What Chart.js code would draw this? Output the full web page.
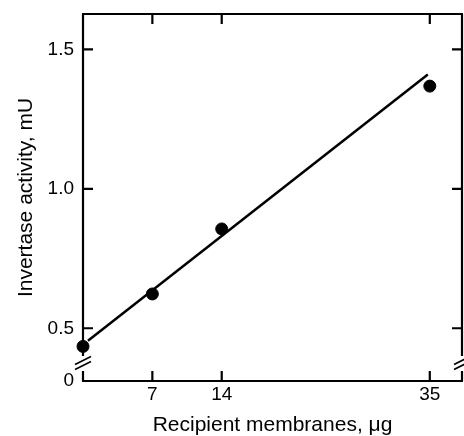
<!DOCTYPE html>
<html>
<head>
<meta charset="utf-8">
<script src="https://cdn.jsdelivr.net/npm/chart.js@4"></script>
<style>
  html, body { margin: 0; padding: 0; background: #fff; }
  canvas { display: block; }
</style>
</head>
<body>
<canvas id="chart" width="464" height="436"></canvas>
<script>
// данные с графика
const membranes = [0, 7, 14, 35];
const activity = [0.435, 0.623, 0.856, 1.368];
const fitX = [0.5, 34.8];
const fitY = [0.455, 1.41];
const xTicks = [7, 14, 35];
const yTicks = [0.5, 1.0, 1.5];

const yMin = 0.311;
const yMax = 1.6265;
const FONT = "'Liberation Sans', Arial, sans-serif";

// убираем лишние отступы под подписи, чтобы рамка встала на место
function noPad(s) {
  s.paddingTop = 0; s.paddingBottom = 0;
  s.paddingLeft = 0; s.paddingRight = 0;
}

// рамка, засечки внутрь и разрывы осей
const axesPlugin = {
  id: 'axes',
  beforeDatasetsDraw(chart) {
    const ctx = chart.ctx;
    const a = chart.chartArea;
    const xs = chart.scales.x, ys = chart.scales.y;
    const gapTop = a.bottom - 25, gapBot = a.bottom - 10;
    ctx.save();
    ctx.strokeStyle = '#000';
    ctx.lineWidth = 2.2;
    ctx.lineCap = 'butt';
    ctx.beginPath();
    // верх и низ
    ctx.moveTo(a.left - 1, a.top); ctx.lineTo(a.right + 1, a.top);
    ctx.moveTo(a.left - 1, a.bottom); ctx.lineTo(a.right + 1, a.bottom);
    // левая ось с разрывом
    ctx.moveTo(a.left, a.top); ctx.lineTo(a.left, gapTop);
    ctx.moveTo(a.left, gapBot); ctx.lineTo(a.left, a.bottom);
    // правая ось с разрывом
    ctx.moveTo(a.right, a.top); ctx.lineTo(a.right, gapTop);
    ctx.moveTo(a.right, gapBot); ctx.lineTo(a.right, a.bottom);
    // засечки
    yTicks.forEach(v => {
      const y = ys.getPixelForValue(v);
      ctx.moveTo(a.left, y); ctx.lineTo(a.left + 10, y);
      ctx.moveTo(a.right, y); ctx.lineTo(a.right - 10, y);
    });
    xTicks.forEach(v => {
      const x = xs.getPixelForValue(v);
      ctx.moveTo(x, a.bottom); ctx.lineTo(x, a.bottom - 10);
      ctx.moveTo(x, a.top); ctx.lineTo(x, a.top + 10);
    });
    ctx.stroke();

    // значки разрыва
    ctx.lineWidth = 1.6;
    ctx.beginPath();
    [a.left, a.right].forEach(x0 => {
      const yc = (gapTop + gapBot) / 2;
      ctx.moveTo(x0 - 8, yc + 1); ctx.lineTo(x0 + 8, yc - 7);
      ctx.moveTo(x0 - 8, yc + 6); ctx.lineTo(x0 + 8, yc - 2);
    });
    ctx.stroke();
    ctx.restore();
  }
};

const ctx = document.getElementById('chart').getContext('2d');
const chart = new Chart(ctx, {
  type: 'scatter',
  data: {
    datasets: [
      {
        label: 'fit',
        type: 'line',
        data: fitX.map((x, i) => ({ x: x, y: fitY[i] })),
        borderColor: '#000',
        borderWidth: 2.5,
        pointRadius: 0,
        fill: false,
        clip: false
      },
      {
        label: 'data',
        data: membranes.map((x, i) => ({ x: x, y: activity[i] })),
        backgroundColor: '#000',
        borderColor: '#000',
        pointRadius: 6,
        pointHoverRadius: 6,
        clip: false
      }
    ]
  },
  options: {
    responsive: false,
    animation: false,
    layout: { autoPadding: false, padding: { top: 14, right: 2, left: 0, bottom: 0 } },
    plugins: {
      legend: { display: false },
      tooltip: { enabled: false }
    },
    scales: {
      x: {
        type: 'linear',
        min: 0,
        max: 38.25,
        grid: { display: false, drawTicks: false },
        border: { display: false },
        afterBuildTicks: s => { s.ticks = xTicks.map(v => ({ value: v })); },
        afterFit: s => { s.height = 55; noPad(s); },
        ticks: {
          color: '#000',
          font: { family: FONT, size: 19 },
          padding: 2,
          maxRotation: 0,
          autoSkip: false
        },
        title: {
          display: true,
          text: 'Recipient membranes, \u03bcg',
          color: '#000',
          font: { family: FONT, size: 21, lineHeight: 1 },
          padding: 0
        }
      },
      y: {
        type: 'linear',
        min: yMin,
        max: yMax,
        grid: { display: false, drawTicks: false },
        border: { display: false },
        afterBuildTicks: s => { s.ticks = [yMin].concat(yTicks).map(v => ({ value: v })); },
        afterFit: s => { s.width = 83; noPad(s); },
        ticks: {
          color: '#000',
          font: { family: FONT, size: 19 },
          padding: 9,
          callback: v => (v === yMin ? '0' : v.toFixed(1))
        },
        title: {
          display: true,
          text: 'Invertase activity, mU',
          color: '#000',
          font: { family: FONT, size: 21, lineHeight: 1 },
          padding: { top: 16, bottom: 0 }
        }
      }
    }
  },
  plugins: [axesPlugin]
});
</script>
</body>
</html>
